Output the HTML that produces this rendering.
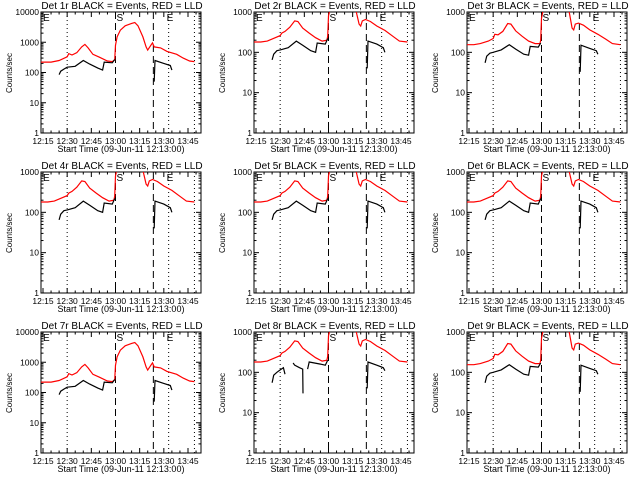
<!DOCTYPE html>
<html><head><meta charset="utf-8"><style>
html,body{margin:0;padding:0;background:#fff;}
svg{display:block;font-family:"Liberation Sans",sans-serif;}
</style></head><body>
<svg id="chart" width="640" height="480" viewBox="0 0 640 480"></svg>
<script>
// time in minutes after 12:00
const tA = [13,20,25,30,31,33,36,39,41,43,46,50,55,58,59.5,60,61,63,66,70,72,74,77,79,80,82,83,84,88,92,98,102,106,109];
const redA = [220,220,250,330,420,380,450,700,850,650,400,320,240,230,260,800,1500,2500,3500,4200,4500,3500,1500,700,550,800,950,700,650,500,400,300,240,230];
const tB = [13,18,22,27,30,31,33,36,39,41,44,48,52,56,59,59.5,60,61,63,70,74,77,79,80,81,83,86,90,95,100,104,109];
const redB = [180,180,190,230,260,300,330,420,600,580,400,300,230,190,200,250,800,1200,3000,3500,3000,1100,500,450,600,650,580,450,350,250,190,180];
const redC = [155,155,165,190,220,280,270,330,520,500,340,250,190,165,165,200,700,1100,3000,3500,3000,1100,400,360,500,530,470,360,280,210,165,155];
const tK = [25,26,28,30,35,40,44,49,52,53,58,59.5,null,84,84.5,90,94,95];
const blackA = [85,110,130,150,160,250,190,140,120,220,210,270,null,50,250,200,170,120];
const blackB = [65,90,110,115,130,190,150,110,100,170,160,220,null,40,190,160,130,100];
const blackC = [55,80,95,100,115,155,120,90,85,140,135,170,null,33,150,125,110,90];
const tK8 = [25,26,28,30,32,33,null,38,39,42,44,44.2,null,47,48,55,58,59.5,null,84,84.5,90,94,95];
const black8 = [55,85,100,115,130,90,null,170,150,130,120,30,null,120,180,160,150,200,null,40,180,150,130,110];
const panels = [
 {det:1,ymax:10000,t:tA,red:redA,tk:tK,blk:blackA},
 {det:2,ymax:1000,t:tB,red:redB,tk:tK,blk:blackB},
 {det:3,ymax:1000,t:tB,red:redC,tk:tK,blk:blackC},
 {det:4,ymax:1000,t:tB,red:redB,tk:tK,blk:blackB},
 {det:5,ymax:1000,t:tB,red:redB,tk:tK,blk:blackB},
 {det:6,ymax:1000,t:tB,red:redB,tk:tK,blk:blackB},
 {det:7,ymax:10000,t:tA,red:redA,tk:tK,blk:blackA},
 {det:8,ymax:1000,t:tB,red:redB,tk:tK8,blk:black8},
 {det:9,ymax:1000,t:tB,red:redC,tk:tK,blk:blackC}
];
const xTicks = [15,30,45,60,75,90,105];
const xTickLabels = ["12:15","12:30","12:45","13:00","13:15","13:30","13:45"];
const dashedT = [60,83.5];
const dottedT = [30,93,109];

const NS="http://www.w3.org/2000/svg";
const svg=document.getElementById('chart');
function mk(tag,attrs,parent){const e=document.createElementNS(NS,tag);for(const k in attrs)e.setAttribute(k,attrs[k]);(parent||svg).appendChild(e);return e;}

panels.forEach((p,i)=>{
  const ox=(i%3)*213, oy=Math.floor(i/3)*160;
  const L=ox+41,R=ox+201,T=oy+12,B=oy+133;
  const xs=t=>ox+43+(t-15)*1.611;
  const dec=Math.log10(p.ymax);
  const ys=v=>B-(Math.log10(v))/dec*(B-T);
  const g=mk('g',{});
  
  
  const clipId='clip'+i;
  const cp=mk('clipPath',{id:clipId},g);mk('rect',{x:L,y:T,width:R-L,height:B-T},cp);
  // box
  const box=mk('rect',{x:L,y:T,width:R-L,height:B-T,fill:'none',stroke:'#000','stroke-width':1},g);
  
  
  // y ticks
  for(let d=0;d<=dec;d++){
    const v=Math.pow(10,d),y=ys(v);
    mk('line',{x1:L,x2:L+5,y1:y,y2:y,stroke:'#000'},g);
    mk('line',{x1:R,x2:R-5,y1:y,y2:y,stroke:'#000'},g);
    const tl=mk('text',{x:L-2,y:y+3,'text-anchor':'end','font-size':8.5},g);tl.textContent=String(v);
    
    
    if(d<dec)for(let m=2;m<10;m++){const ym=ys(v*m);
      mk('line',{x1:L,x2:L+2.5,y1:ym,y2:ym,stroke:'#000'},g);
      mk('line',{x1:R,x2:R-2.5,y1:ym,y2:ym,stroke:'#000'},g);}
  }
  // x ticks
  xTicks.forEach((t,j)=>{const x=xs(t);
    mk('line',{x1:x,x2:x,y1:B,y2:B-5,stroke:'#000'},g);
    mk('line',{x1:x,x2:x,y1:T,y2:T+5,stroke:'#000'},g);
    const tl=mk('text',{x:x,y:B+11,'text-anchor':'middle','font-size':8.5},g);tl.textContent=xTickLabels[j];
    
    
    for(let k=1;k<3;k++){const xm=xs(t+k*5);if(xm<R){mk('line',{x1:xm,x2:xm,y1:B,y2:B-2.5,stroke:'#000'},g);mk('line',{x1:xm,x2:xm,y1:T,y2:T+2.5,stroke:'#000'},g);}}
  });
  // vertical markers
  dottedT.forEach(t=>{const l=mk('line',{x1:xs(t),x2:xs(t),y1:T,y2:B,stroke:'#000','stroke-dasharray':'1,3'},g);
    });
  dashedT.forEach(t=>{const l=mk('line',{x1:xs(t),x2:xs(t),y1:T,y2:B,stroke:'#000','stroke-dasharray':'7,4'},g);
    });
  // letters
  [['E',L+2],['S',xs(60)+1],['E',xs(93)-2]].forEach(a=>{const tx=mk('text',{x:a[1],y:T+9,'font-size':10},g);tx.textContent=a[0];
    });
  // series
  function path(ts,vs,color,name){let d='',pen=false;
    for(let k=0;k<ts.length;k++){if(ts[k]===null||vs[k]===null){pen=false;continue;}
      d+=(pen?'L':'M')+xs(ts[k]).toFixed(1)+','+ys(vs[k]).toFixed(1);pen=true;}
    const e=mk('path',{d:d,fill:'none',stroke:color,'stroke-width':1.2,'clip-path':'url(#'+clipId+')'},g);
    }
  path(p.t,p.red,'#ff0000','lld-series');
  path(p.tk,p.blk,'#000000','events-series');
  // labels
  const ti=mk('text',{x:(L+R)/2+1,y:oy+9,'text-anchor':'middle','font-size':10},g);
  ti.textContent='Det '+p.det+'r BLACK = Events, RED = LLD';
  
  const xl=mk('text',{x:ox+121,y:oy+152,'text-anchor':'middle','font-size':9},g);
  xl.textContent='Start Time (09-Jun-11 12:13:00)';
  
  const yl=mk('text',{x:0,y:0,'text-anchor':'middle','font-size':8,transform:'translate('+(ox+12)+','+(oy+73)+') rotate(-90)'},g);
  yl.textContent='Counts/sec';
  
});
</script>
</body></html>
